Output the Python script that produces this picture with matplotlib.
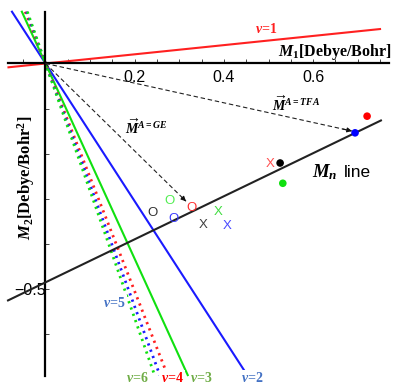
import numpy as np
import matplotlib
matplotlib.use("Agg")
import matplotlib.pyplot as plt

plt.rcParams['mathtext.fontset'] = 'custom'
plt.rcParams['mathtext.rm'] = 'Liberation Serif:bold'
plt.rcParams['mathtext.it'] = 'Liberation Serif:italic:bold'
plt.rcParams['mathtext.bf'] = 'Liberation Serif:bold'

# ---- data ----
nu_labels = [1, 2, 3, 4, 5, 6]
nu_slopes = [0.102, -1.53, -2.17, -2.53, -2.70, -2.83]
nu_colors = ['#ff2020', '#1a1aff', '#10e010', '#ff2020', '#1a1aff', '#10e010']
nu_styles = ['-', '-', '-', ':', ':', ':']

mn_slope = 0.478
mn_intercept = -0.486

# vectors (arrows from origin)
vec_names = ['GE', 'TFA']
vec_x = [0.315, 0.687]
vec_y = [-0.306, -0.150]

# letter markers
o_x = [0.239, 0.279, 0.286, 0.328]
o_y = [-0.332, -0.306, -0.346, -0.321]
o_colors = ['#303030', '#50ee50', '#3a3aff', '#ff3030']
x_x = [0.387, 0.353, 0.407, 0.503]
x_y = [-0.330, -0.359, -0.361, -0.223]
x_colors = ['#40dd40', '#404040', '#4a4aff', '#ff5050']

# filled dots
dot_x = [0.526, 0.532, 0.721, 0.694]
dot_y = [-0.221, -0.266, -0.117, -0.154]
dot_colors = ['#000000', '#10e010', '#ff0000', '#0000ff']

xticks_major = [0.2, 0.4, 0.6]
yticks_major = [-0.5]

# ---- figure ----
fig = plt.figure(figsize=(4.01, 3.85), dpi=100)
ax = fig.add_axes([0, 0, 1, 1])
ax.set_xlim(-0.102, 0.797)
ax.set_ylim(-0.714, 0.141)

for s in ['top', 'right']:
    ax.spines[s].set_visible(False)
ax.spines['left'].set_position(('data', 0))
ax.spines['bottom'].set_position(('data', 0))
ax.spines['left'].set_bounds(-0.694, 0.115)
ax.spines['bottom'].set_bounds(-0.083, 0.77)
ax.spines['left'].set_linewidth(1.6)
ax.spines['bottom'].set_linewidth(1.6)

ax.set_xticks(xticks_major)
ax.set_xticklabels([f'{v:.1f}' for v in xticks_major], fontfamily='Liberation Sans', fontsize=11.5)
ax.set_xticks([v for v in np.arange(-0.05, 0.76, 0.05) if abs(v) > 1e-9 and min(abs(v - m) for m in xticks_major) > 1e-6], minor=True)
ax.set_yticks(yticks_major)
ax.set_yticklabels(['\u22120.5'], fontfamily='Liberation Sans', fontsize=11.5)
ax.set_yticks([-0.6, -0.4, -0.3, -0.2, -0.1], minor=True)
ax.tick_params(axis='x', which='both', direction='in', length=3, width=0.7, pad=5, color='#444444')
ax.tick_params(axis='y', which='both', direction='in', length=3, width=0.7, pad=0, color='#444444')

# nu lines
for lab, k, c, ls in zip(nu_labels, nu_slopes, nu_colors, nu_styles):
    if k > 0:
        xs = np.array([-0.083, 0.75])
    else:
        xs = np.array([0.115, -0.692]) / k
    if ls == ':':
        ax.plot(xs, k * xs, color=c, lw=2.0, linestyle=(0, (0.8, 1.6)), zorder=2)
    else:
        ax.plot(xs, k * xs, color=c, lw=1.5, zorder=2)

# Mn line
mx = np.array([-0.084, 0.752])
ax.plot(mx, mn_intercept + mn_slope * mx, color='#222222', lw=1.5, zorder=3)

# arrows
for vx, vy in zip(vec_x, vec_y):
    ax.plot([0, vx], [0, vy], color='#222222', lw=0.8, linestyle=(0, (4, 2.5)), zorder=3)
    ax.annotate('', xy=(vx, vy), xytext=(vx * 0.97, vy * 0.97),
                arrowprops=dict(arrowstyle='-|>', color='#111111', lw=0.8, mutation_scale=7,
                                shrinkA=0, shrinkB=0), zorder=4)

# letter markers
for x, y, c in zip(o_x, o_y, o_colors):
    ax.text(x, y, 'O', color=c, fontsize=9.5, fontfamily='Liberation Sans', ha='center', va='center', zorder=5)
for x, y, c in zip(x_x, x_y, x_colors):
    ax.text(x, y, 'X', color=c, fontsize=9.5, fontfamily='Liberation Sans', ha='center', va='center', zorder=5)

ax.scatter(dot_x, dot_y, s=30, c=dot_colors, zorder=6, linewidths=0)

# texts
ax.text(0.494, 0.0767, r'$\nu$=1', color='#ff2020', fontsize=10, fontfamily='Liberation Serif',
        fontweight='bold', ha='center', va='center')
ax.text(0.776, 0.026, r'$M_1$[Debye/Bohr]', color='black', fontsize=11.5, fontfamily='Liberation Serif',
        fontweight='bold', ha='right', va='center')
ax.text(-0.0437, -0.254, r'$M_2$[Debye/Bohr$^2$]', color='black', fontsize=12, fontfamily='Liberation Serif',
        fontweight='bold', ha='center', va='center', rotation=90)
ax.text(0.178, -0.143, r'$\overrightarrow{M}^{A=GE}$', fontsize=10, ha='left', va='center')
ax.text(0.508, -0.090, r'$\overrightarrow{M}^{A=TFA}$', fontsize=10, ha='left', va='center')
ax.text(0.598, -0.241, r'$M_n$', fontsize=13.5, ha='left', va='center')
ax.text(0.668, -0.241, 'line', fontsize=12.5, fontfamily='Liberation Sans', ha='left', va='center')

bot_labels = [(0.154, -0.532, 5, '#4472c4'), (0.205, -0.699, 6, '#70ad47'), (0.284, -0.699, 4, '#ff0000'),
              (0.349, -0.699, 3, '#70ad47'), (0.463, -0.699, 2, '#4472c4')]
for x, y, n, c in bot_labels:
    ax.text(x, y, rf'$\nu$={n}', color=c, fontsize=10, fontfamily='Liberation Serif', fontweight='bold',
            ha='center', va='center', zorder=7,
            bbox=dict(boxstyle='square,pad=0.1', fc='white', ec='none'))

fig.savefig('out.png', dpi=100)
